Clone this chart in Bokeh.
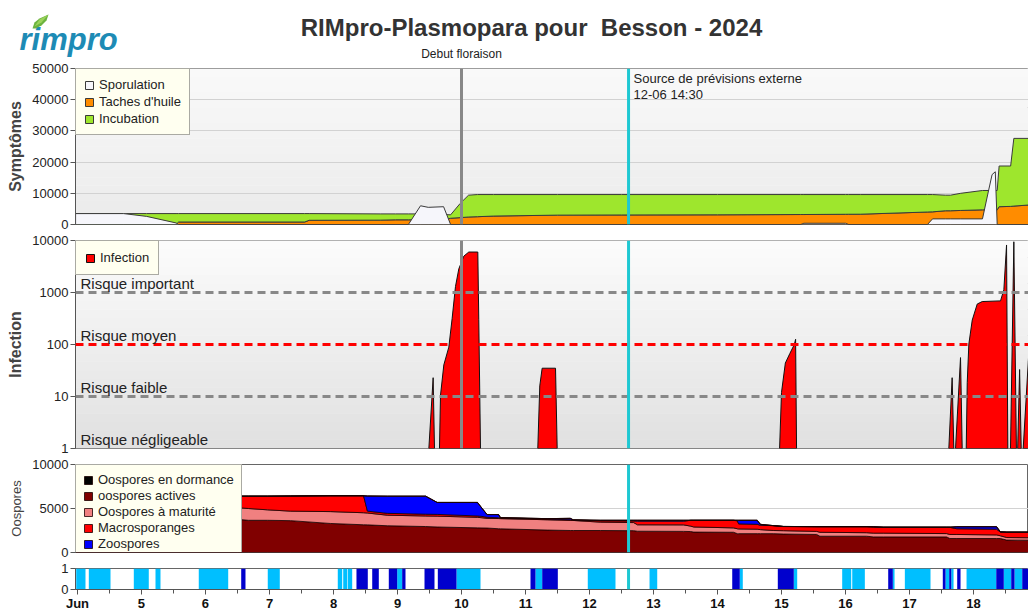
import numpy as np
from bokeh.plotting import figure
from bokeh.models import (Range1d, FixedTicker, NumeralTickFormatter, Span, Label, Legend,
                          LegendItem, BoxAnnotation, PolyAnnotation)
from bokeh.layouts import column
from bokeh.embed import file_html
from bokeh.resources import INLINE

FONT = "Liberation Sans"

# ---------------- data ----------------
# x values are days of June
X_START, X_END = 3.969, 18.859
floraison_day = 10.0
forecast_day = 12.61          # "12-06 14:30"
title_text = "RIMpro-Plasmopara pour\u00a0 Besson - 2024"

# Symptômes (stacked: taches d'huile + incubation; sporulation drawn in front)
sym_x = [3.97, 4.72, 5.08, 5.54, 5.58, 7.55, 7.62, 8.73, 8.97, 9.17, 9.36, 9.48, 9.72, 9.83, 9.98,
         10.11, 10.25, 10.5, 11.5, 12.5, 14.0, 15.3, 15.35, 16.0, 16.05, 16.23, 17.28, 17.36, 17.56,
         17.64, 17.80, 18.14, 18.23, 18.29, 18.34, 18.37, 18.40, 18.58, 18.63, 18.86]
sporulation = [3500, 3500, 2600, 500, 0, 0, 0, 0, 0, 0, 6000, 5500, 5700, 0, 0,
               0, 0, 0, 0, 0, 0, 0, 400, 400, 0, 0, 0, 1800, 1800,
               1800, 1800, 1800, 10400, 16000, 16900, 0, 0, 0, 0, 0]
taches_huile = [0, 0, 0, 0, 800, 800, 1350, 1400, 1500, 1500, 1500, 1500, 1600, 2000, 2200,
                2400, 2500, 2700, 3000, 3050, 3100, 3200, 3200, 3280, 3290, 3300, 4000, 4050, 4400,
                4400, 4500, 4700, 4700, 4700, 4700, 4700, 5700, 5800, 5900, 6250]
incubation = [3500, 3500, 3500, 3500, 2700, 2700, 2150, 2000, 1900, 1900, 1900, 1900, 1600, 1100, 4570,
              7000, 7100, 6900, 6600, 6550, 6500, 6400, 6400, 6320, 6310, 6300, 5600, 5550, 5000,
              5000, 5500, 6200, 6200, 6200, 6200, 6200, 13050, 12950, 21700, 21350]

# Infection events (each closed at the baseline 1 of the log axis)
inf_x = [
    [9.49, 9.557, 9.578],
    [9.656, 9.672, 9.724, 9.802, 9.854, 9.906, 9.958, 10.036, 10.114, 10.255, 10.27, 10.297],
    [11.192, 11.223, 11.26, 11.469, 11.495],
    [14.97, 15.0, 15.06, 15.13, 15.2, 15.22, 15.235],
    [17.614, 17.666, 17.692],
    [17.719, 17.797, 17.823],
    [17.886, 17.902, 17.927, 17.98, 18.058, 18.136, 18.422, 18.474, 18.516, 18.536],
    [18.578, 18.63, 18.67],
    [18.69, 18.72, 18.745],
    [18.776, 18.86, 18.86],
]
inf_y = [
    [1, 23, 1],
    [1, 10.6, 40.6, 89, 318, 1300, 2840, 5000, 6000, 6000, 300, 1],
    [1, 16, 35, 35, 1],
    [1, 12, 44, 67, 100, 126, 1],
    [1, 23, 1],
    [1, 56, 1],
    [1, 18.7, 102, 295, 600, 670, 690, 1130, 8200, 1],
    [1, 9460, 1],
    [1, 33, 1],
    [1, 58, 1],
]
risk_levels = [1, 10, 100, 1000]
risk_labels = ["Risque négligeable", "Risque faible", "Risque moyen", "Risque important"]

# Oospores: cumulative tops of the stacked layers
oo_x = [3.97, 6.50, 6.67, 6.97, 7.33, 7.95, 8.47, 8.53, 8.84, 9.44, 9.62, 10.25, 10.32, 10.40, 10.58,
        10.61, 11.34, 11.70, 11.75, 12.17, 12.69, 12.75, 13.47, 13.58, 13.63, 14.25, 14.31, 14.33,
        14.62, 14.67, 14.88, 15.03, 15.55, 15.60, 16.33, 16.44, 16.59, 17.58, 17.63, 17.74, 18.36,
        18.42, 18.52, 18.86]
oo_actives_top = [3800, 3770, 3660, 3660, 3620, 3300, 3150, 3140, 3040, 2950, 2900, 2800, 2790, 2780, 2700,
                  2690, 2550, 2500, 2500, 2500, 2480, 2420, 2400, 2380, 2320, 2300, 2140, 2140,
                  2140, 2140, 2140, 2100, 2050, 1850, 1850, 1770, 1770, 1770, 1590, 1590, 1590,
                  1590, 1410, 1400]
oo_maturite_top = [5200, 5100, 5000, 4850, 4700, 4650, 4520, 4490, 4240, 4150, 4130, 4000, 3950, 3880, 3860,
                   3850, 3720, 3650, 3640, 3450, 3400, 3150, 3140, 3000, 2900, 2800, 2700, 2680,
                   2650, 2600, 2500, 2480, 2400, 2300, 2250, 2200, 2200, 2150, 2050, 2050, 2000,
                   1900, 1700, 1680]
macro_top = [6500, 6400, 6400, 6400, 6420, 6450, 6450, 4700, 4450, 4350, 4330, 4150, 4100, 4000, 3950,
             3950, 3800, 3720, 3700, 3600, 3580, 3560, 3560, 3660, 3660, 3660, 3600, 3250,
             3200, 3100, 3050, 2950, 2930, 2930, 2930, 2900, 2860, 2860, 2860, 2700, 2650,
             2320, 2300, 2300]
zoo_top = [6500, 6400, 6400, 6400, 6420, 6450, 6450, 6420, 6400, 6400, 5690, 5690, 5030, 4310, 4310,
           3950, 3850, 3880, 3700, 3660, 3660, 3660, 3660, 3660, 3660, 3660, 3660, 3660,
           3660, 3200, 3050, 2960, 2940, 2940, 2940, 2920, 2880, 2880, 2880, 2930, 2930,
           2350, 2320, 2320]

# Bottom strip (humectation): light and dark blue periods
light_start = [3.980, 4.177, 4.880, 5.219, 5.895, 6.973, 8.067, 8.152, 8.223, 8.995, 9.922, 11.156,
               11.973, 12.938, 14.348, 15.192, 15.948, 16.105, 16.739, 16.927, 17.563, 17.652, 17.891,
               18.473, 18.641]
light_end = [4.125, 4.516, 5.114, 5.297, 6.355, 7.161, 8.136, 8.214, 8.292, 9.073, 10.297, 11.261,
             12.406, 13.058, 14.395, 15.245, 16.089, 16.302, 16.766, 17.328, 17.620, 17.688, 18.355,
             18.589, 18.761]
dark_start = [6.558, 8.359, 8.605, 8.864, 9.073, 9.422, 9.630, 11.078, 11.261, 14.230, 14.942, 16.667,
              17.520, 17.620, 17.745, 18.355, 18.589, 18.761]
dark_end = [6.625, 8.536, 8.708, 8.995, 9.125, 9.578, 9.922, 11.156, 11.505, 14.348, 15.192, 16.739,
            17.563, 17.652, 17.797, 18.473, 18.641, 18.860]

day_ticks = list(range(4, 19))
day_minor = [d + 0.5 for d in range(3, 19)]

# ---------------- helpers ----------------
W = 1028
LEFT = 75
xr = Range1d(X_START, X_END)
px_per_day = (W - LEFT) / (X_END - X_START)


def band(x, lo, hi):
    x = list(x)
    return x + x[::-1], list(hi) + list(lo)[::-1]


def lerp_hex(c0, c1, t):
    a = [int(c0[i:i + 2], 16) for i in (1, 3, 5)]
    b = [int(c1[i:i + 2], 16) for i in (1, 3, 5)]
    return "#%02x%02x%02x" % tuple(int(round(a[k] + (b[k] - a[k]) * t)) for k in range(3))


def make_fig(h, top, bottom, yr, ytype="linear", xloc=None):
    p = figure(width=W, height=h, x_range=xr, y_range=yr, y_axis_type=ytype,
               output_backend="svg", toolbar_location=None,
               min_border_left=LEFT, min_border_right=0, min_border_top=top,
               min_border_bottom=bottom, x_axis_location=xloc)
    p.outline_line_color = "#666666"
    p.background_fill_color = "white"
    p.border_fill_color = "white"
    p.xgrid.visible = False
    ax = p.yaxis[0]
    ax.axis_line_color = "#555555"
    ax.major_tick_line_color = "#555555"
    ax.major_tick_out = 5
    ax.major_tick_in = 0
    ax.minor_tick_line_color = None
    ax.major_label_text_font = FONT
    ax.major_label_text_font_size = "13px"
    ax.major_label_text_color = "#222222"
    ax.major_label_standoff = 2
    ax.axis_label_text_font = FONT
    ax.axis_label_text_color = "#444444"
    ax.axis_label_standoff = 5
    return p


def style_legend(lg, pad=8, lh=14, sp=2):
    lg.location = "top_left"
    lg.background_fill_color = "#fffff0"
    lg.background_fill_alpha = 1
    lg.border_line_color = "#555555"
    lg.border_line_width = 1
    lg.label_text_font = FONT
    lg.label_text_font_size = "13px"
    lg.label_text_color = "#222222"
    lg.glyph_width = 10
    lg.glyph_height = 10
    lg.label_height = lh
    lg.label_standoff = 5
    lg.spacing = sp
    lg.padding = pad
    lg.margin = 0


# ---------------- header (logo, title, event label) ----------------
HEAD_H = 60
ph = figure(width=W, height=HEAD_H, x_range=Range1d(X_START - LEFT / px_per_day, X_END),
            y_range=Range1d(0, HEAD_H), output_backend="svg", toolbar_location=None,
            min_border=0, min_border_left=0, min_border_right=0, min_border_top=0, min_border_bottom=0,
            x_axis_location=None, y_axis_location=None)
ph.outline_line_color = None
ph.grid.visible = False
ph.background_fill_color = "white"
ph.border_fill_color = "white"
ph.add_layout(Label(x=531, y=HEAD_H - 27, x_units="screen", text=title_text, text_align="center",
                    text_baseline="middle", text_font=FONT, text_font_size="24px",
                    text_font_style="bold", text_color="#333333"))
ph.add_layout(Label(x=floraison_day, y=0, text="Debut floraison", text_align="center",
                    text_baseline="bottom", text_font=FONT, text_font_size="12px", text_color="#222222"))
ph.add_layout(Label(x=19, y=21, x_units="screen", text="rimpro", text_baseline="alphabetic",
                    text_font=FONT, text_font_size="31px", text_font_style="bold italic",
                    text_color="#1d8bb5"))
ph.add_layout(PolyAnnotation(xs=[32, 34, 39, 48, 46, 41, 35], ys=[32, 38, 42, 46, 40, 35, 32],
                             xs_units="screen", ys_units="screen",
                             fill_color="#6cb33f", fill_alpha=1, line_color=None))
ph.add_layout(PolyAnnotation(xs=[34, 39, 48, 41], ys=[34, 41, 46, 38],
                             xs_units="screen", ys_units="screen",
                             fill_color="#9bd35a", fill_alpha=1, line_color=None))

# ---------------- panel 1 : Symptômes ----------------
p1 = make_fig(172, 8, 8, Range1d(0, 50000))
nb = 20
for i in range(nb):
    p1.add_layout(BoxAnnotation(bottom=50000 * i / nb, top=50000 * (i + 1) / nb + 60,
                                fill_color=lerp_hex("#ebebeb", "#f9f9f9", i / (nb - 1)),
                                fill_alpha=1, line_color=None, level="image"))
p1.yaxis.ticker = FixedTicker(ticks=[0, 10000, 20000, 30000, 40000, 50000])
p1.yaxis.formatter = NumeralTickFormatter(format="0")
p1.ygrid.ticker = FixedTicker(ticks=[10000, 20000, 30000, 40000])
p1.ygrid.grid_line_color = "#d2d2d2"
p1.yaxis.axis_label = "Symptômes"
p1.yaxis.axis_label_text_font_style = "bold"
p1.yaxis.axis_label_text_font_size = "16px"

tach = np.array(taches_huile, float)
inc_top = tach + np.array(incubation, float)
zeros = np.zeros(len(sym_x))
xs, ys = band(sym_x, zeros, tach)
r_tach = p1.patch(xs, ys, fill_color="#ff8c00", line_color="#3a3a3a", line_width=1)
xs, ys = band(sym_x, tach, inc_top)
r_inc = p1.patch(xs, ys, fill_color="#9ee62d", line_color="#3a3a3a", line_width=1)
xs, ys = band(sym_x, zeros, sporulation)
r_spor = p1.patch(xs, ys, fill_color="#f6f6fb", line_color="#3a3a3a", line_width=1)

lg1 = Legend(items=[LegendItem(label="Sporulation", renderers=[r_spor]),
                    LegendItem(label="Taches d'huile", renderers=[r_tach]),
                    LegendItem(label="Incubation", renderers=[r_inc])])
style_legend(lg1)
p1.add_layout(lg1)

p1.add_layout(Span(location=floraison_day, dimension="height", line_color="#888888", line_width=3))
p1.add_layout(Span(location=forecast_day, dimension="height", line_color="#1ec8d2", line_width=3))
p1.add_layout(Label(x=forecast_day, y=50000, x_offset=5, y_offset=-2, text="Source de prévisions externe",
                    text_baseline="top", text_font=FONT, text_font_size="13px", text_color="#222222"))
p1.add_layout(Label(x=forecast_day, y=50000, x_offset=5, y_offset=-18, text="12-06 14:30",
                    text_baseline="top", text_font=FONT, text_font_size="13px", text_color="#222222"))

# ---------------- panel 2 : Infection ----------------
p2 = make_fig(224, 8, 8, Range1d(1, 10000), ytype="log")
nb = 24
for i in range(nb):
    p2.add_layout(BoxAnnotation(bottom=10 ** (4 * i / nb), top=10 ** (4 * (i + 1) / nb) * 1.03,
                                fill_color=lerp_hex("#e1e1e1", "#fbfbfb", i / (nb - 1)),
                                fill_alpha=1, line_color=None, level="image"))
p2.ygrid.visible = False
p2.yaxis.ticker = FixedTicker(ticks=[1, 10, 100, 1000, 10000])
p2.yaxis.formatter = NumeralTickFormatter(format="0")
p2.yaxis.axis_label = "Infection"
p2.yaxis.axis_label_text_font_style = "bold"
p2.yaxis.axis_label_text_font_size = "16px"

r_infection = p2.patches(inf_x, inf_y, fill_color="#ff0000", line_color="#111111", line_width=1)
for lvl in risk_levels[1:]:
    p2.add_layout(Span(location=lvl, dimension="width", line_width=3, line_dash="8 5",
                       line_color="#ff0000" if lvl == 100 else "#888888"))
for lvl, txt in zip(risk_levels, risk_labels):
    p2.add_layout(Label(x=X_START, y=lvl, x_offset=5, y_offset=1, text=txt, text_baseline="bottom",
                        text_font=FONT, text_font_size="15px", text_color="#222222"))
p2.add_layout(Span(location=floraison_day, dimension="height", line_color="#888888", line_width=3))
p2.add_layout(Span(location=forecast_day, dimension="height", line_color="#1ec8d2", line_width=3))
lg2 = Legend(items=[LegendItem(label="Infection", renderers=[r_infection])])
style_legend(lg2, pad=9)
p2.add_layout(lg2)

# ---------------- panel 3 : Oospores ----------------
p3 = make_fig(104, 8, 8, Range1d(0, 10000))
p3.yaxis.ticker = FixedTicker(ticks=[0, 5000, 10000])
p3.yaxis.formatter = NumeralTickFormatter(format="0")
p3.ygrid.ticker = FixedTicker(ticks=[5000])
p3.ygrid.grid_line_color = "#d2d2d2"
p3.yaxis.axis_label = "Oospores"
p3.yaxis.axis_label_text_font_size = "13px"
p3.yaxis.axis_label_text_font_style = "normal"

zo = np.zeros(len(oo_x))
layers = [(zo, oo_actives_top, "#800000"), (oo_actives_top, oo_maturite_top, "#f08080"),
          (oo_maturite_top, macro_top, "#ff0000"), (macro_top, zoo_top, "#0000ff"),
          (zoo_top, zoo_top, "#000000")]
rs = []
for lo, hi, col in layers:
    xs, ys = band(oo_x, lo, hi)
    rs.append(p3.patch(xs, ys, fill_color=col, line_color="#1a0000", line_width=0.8))
lg3 = Legend(items=[LegendItem(label="Oospores en dormance", renderers=[rs[4]]),
                    LegendItem(label="oospores actives", renderers=[rs[0]]),
                    LegendItem(label="Oospores à maturité", renderers=[rs[1]]),
                    LegendItem(label="Macrosporanges", renderers=[rs[2]]),
                    LegendItem(label="Zoospores", renderers=[rs[3]])])
style_legend(lg3, pad=7, lh=14, sp=1)
p3.add_layout(lg3)
p3.add_layout(Span(location=forecast_day, dimension="height", line_color="#1ec8d2", line_width=3))

# ---------------- panel 4 : strip ----------------
p4 = make_fig(53, 8, 21, Range1d(0, 1), xloc="below")
p4.ygrid.visible = False
p4.yaxis.ticker = FixedTicker(ticks=[0, 1])
p4.quad(left=light_start, right=light_end, bottom=0, top=1, fill_color="#00bfff", line_color=None)
p4.quad(left=dark_start, right=dark_end, bottom=0, top=1, fill_color="#0000cd", line_color=None)
p4.add_layout(Span(location=forecast_day, dimension="height", line_color="#1ec8d2", line_width=3))
xa = p4.xaxis[0]
xa.ticker = FixedTicker(ticks=day_ticks, minor_ticks=day_minor)
xa.major_label_overrides = {4: "Jun"}
xa.major_label_text_font = FONT
xa.major_label_text_font_size = "13px"
xa.major_label_text_font_style = "bold"
xa.major_label_text_color = "#111111"
xa.major_label_standoff = 1
xa.axis_line_color = "#555555"
xa.major_tick_line_color = "#555555"
xa.minor_tick_line_color = "#555555"
xa.major_tick_out = 5
xa.major_tick_in = 0
xa.minor_tick_out = 4
xa.minor_tick_in = 0

layout = column(ph, column(p1, p2, p3, p4))
open("out.html", "w").write(file_html(layout, INLINE, "RIMpro-Plasmopara"))
